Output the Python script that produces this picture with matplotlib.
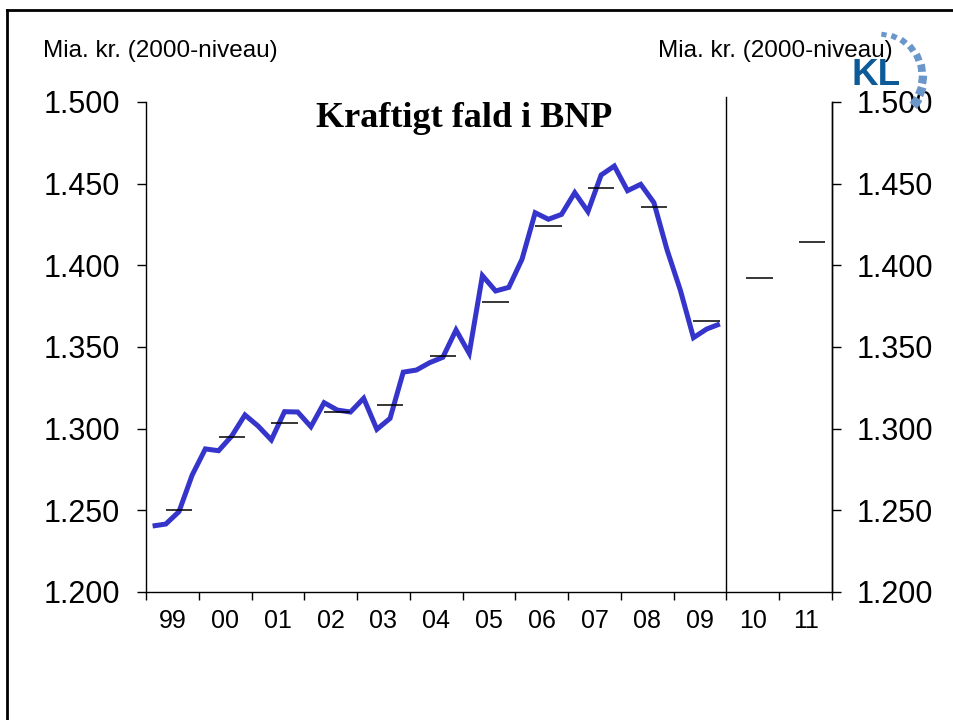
import matplotlib
matplotlib.use("Agg")
import matplotlib.pyplot as plt
from matplotlib.lines import Line2D
from matplotlib.patches import Wedge
import numpy as np

# ---------------- data ----------------
start_year = 1999
# quarterly GDP, mia. kr. (2000-level), 1999Q1 .. 2009Q4
gdp_quarterly = [
    1240.4, 1241.6, 1249.2, 1271.6,   # 1999
    1287.6, 1286.5, 1295.5, 1308.4,   # 2000
    1301.6, 1293.1, 1310.4, 1310.2,   # 2001
    1301.2, 1315.9, 1311.4, 1310.2,   # 2002
    1318.6, 1299.6, 1306.3, 1334.6,   # 2003
    1335.9, 1340.4, 1343.7, 1360.4,   # 2004
    1346.1, 1393.7, 1384.3, 1386.5,   # 2005
    1403.7, 1432.2, 1428.2, 1431.2,   # 2006
    1444.5, 1432.9, 1455.3, 1460.8,   # 2007
    1445.7, 1449.6, 1438.4, 1409.4,   # 2008
    1384.9, 1355.7, 1361.0, 1364.1,   # 2009
]
annual_years = [1999, 2000, 2001, 2002, 2003, 2004, 2005, 2006, 2007, 2008, 2009, 2010, 2011]
annual_avg = [1250.0, 1294.9, 1303.5, 1310.0, 1314.7, 1344.5, 1377.8,
              1424.3, 1447.6, 1435.5, 1365.9, 1392.0, 1414.5]
year_labels = ["99", "00", "01", "02", "03", "04", "05", "06", "07", "08", "09", "10", "11"]
forecast_start = 2010
y_ticks = [1200, 1250, 1300, 1350, 1400, 1450, 1500]
unit_label = "Mia. kr. (2000-niveau)"
title = "Kraftigt fald i BNP"

# ---------------- figure ----------------
plt.rcParams['font.family'] = ['Liberation Sans', 'DejaVu Sans']
W, H = 954, 720
fig = plt.figure(figsize=(W / 100, H / 100), dpi=100)

ax = fig.add_axes([146 / W, 1 - 592 / H, (832 - 146) / W, (592 - 102) / H])
ax.set_xlim(start_year, annual_years[-1] + 1)
ax.set_ylim(y_ticks[0], y_ticks[-1])

line_color = "#3535cc"
xq = start_year + (np.arange(len(gdp_quarterly)) + 0.5) / 4
ax.plot(xq, gdp_quarterly, color=line_color, lw=3.6, solid_joinstyle="miter",
        solid_capstyle="butt", zorder=3)

for yr, v in zip(annual_years, annual_avg):
    ax.hlines(v, yr + 0.375, yr + 0.875, color="black", lw=1.1, zorder=4)

# divider between history and forecast
ax.plot([forecast_start, forecast_start], [y_ticks[0], y_ticks[-1] + 3],
        color="black", lw=1.0, clip_on=False, zorder=2)

# spines
ax.spines["top"].set_visible(False)
for s in ["left", "right", "bottom"]:
    ax.spines[s].set_linewidth(1.0)

fmt = lambda v: f"{v:,.0f}".replace(",", ".")

# x ticks
years = np.arange(start_year, annual_years[-1] + 2)
ax.set_xticks(years)
ax.set_xticklabels([])
ax.set_xticks(np.array(annual_years) + 0.5, minor=True)
ax.set_xticklabels(year_labels, minor=True, fontsize=18)
ax.tick_params(axis="x", which="major", direction="out", length=6, width=1)
ax.tick_params(axis="x", which="minor", length=0, pad=12.5)

# left y axis
ax.set_yticks(y_ticks)
ax.set_yticklabels([fmt(v) for v in y_ticks], fontsize=22)
ax.tick_params(axis="y", direction="out", length=6.5, width=1, pad=12)

# right y axis
ax2 = ax.twinx()
ax2.set_ylim(ax.get_ylim())
ax2.set_yticks(y_ticks)
ax2.set_yticklabels([fmt(v) for v in y_ticks], fontsize=22)
ax2.tick_params(axis="y", direction="out", length=6.5, width=1, pad=11)
for s in ["top", "left", "bottom"]:
    ax2.spines[s].set_visible(False)
ax2.spines["right"].set_linewidth(1.0)

# texts
fig.text(43 / W, 1 - 57 / H, unit_label, fontsize=17.5, ha="left", va="baseline")
fig.text(658 / W, 1 - 57 / H, unit_label, fontsize=17.5, ha="left", va="baseline")
fig.text(464 / W, 1 - 127 / H, title, fontsize=26, fontweight="bold",
         family=["Liberation Serif", "DejaVu Serif"], ha="center", va="baseline")

# slide frame
fig.add_artist(Line2D([7 / W, 7 / W], [0, 1 - 10 / H], color="black", lw=2,
                      transform=fig.transFigure))
fig.add_artist(Line2D([7 / W, 1], [1 - 10 / H, 1 - 10 / H], color="black", lw=2,
                      transform=fig.transFigure))

# KL logo
logo_ax = fig.add_axes([0, 0, 1, 1], facecolor="none")
logo_ax.set_xlim(0, W)
logo_ax.set_ylim(H, 0)
logo_ax.axis("off")
logo_ax.text(852, 85, "KL", fontsize=26.5, fontweight="bold", color="#0d5a98",
             ha="left", va="baseline")
cx, cy = 877, 74
n = 9
for i in range(n):
    a = 80 - i * 14.5
    r = 40 + i * 1.0
    width = 5 + i * 0.55
    span = 7.5 + i * 0.4
    logo_ax.add_patch(Wedge((cx, cy), r + width / 2, -a - span / 2, -a + span / 2,
                            width=width, facecolor="#6b96c9", edgecolor="none", lw=0))

fig.savefig("out.png", dpi=100)
